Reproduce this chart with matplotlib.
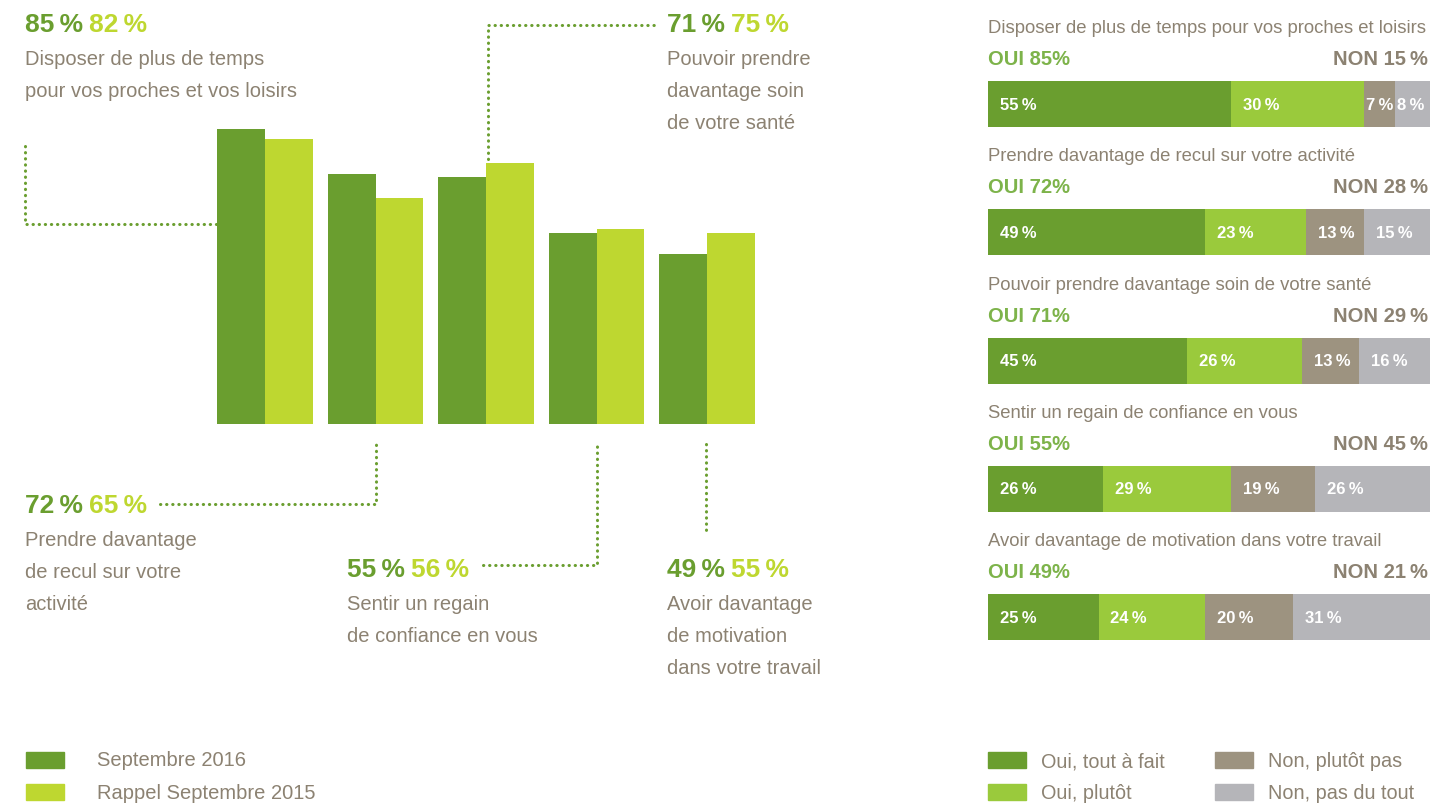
import matplotlib
matplotlib.use("Agg")
import matplotlib.pyplot as plt
from matplotlib.lines import Line2D

plt.rcParams['font.family'] = ['Liberation Sans', 'DejaVu Sans']

# left chart data: Septembre 2016 vs Rappel Septembre 2015
items = ["Disposer de plus de temps\npour vos proches et vos loisirs",
         "Prendre davantage\nde recul sur votre\nactivité",
         "Pouvoir prendre\ndavantage soin\nde votre santé",
         "Sentir un regain\nde confiance en vous",
         "Avoir davantage\nde motivation\ndans votre travail"]
sept_2016 = [85, 72, 71, 55, 49]
sept_2015 = [82, 65, 75, 56, 55]

# right chart data
questions = ["Disposer de plus de temps pour vos proches et loisirs",
             "Prendre davantage de recul sur votre activité",
             "Pouvoir prendre davantage soin de votre santé",
             "Sentir un regain de confiance en vous",
             "Avoir davantage de motivation dans votre travail"]
oui_total = [85, 72, 71, 55, 49]
non_total = [15, 28, 29, 45, 21]
tout_a_fait = [55, 49, 45, 26, 25]
plutot = [30, 23, 26, 29, 24]
plutot_pas = [7, 13, 13, 19, 20]
pas_du_tout = [8, 15, 16, 26, 31]
answer_labels = ["Oui, tout à fait", "Oui, plutôt", "Non, plutôt pas", "Non, pas du tout"]

DARK = '#6a9e2f'
LIME = '#bed730'
GREEN2 = '#9aca3c'
TAUPE = '#9d9380'
LGRAY = '#b5b5b9'
TXT = '#8c8272'
OUI_C = '#7db34a'
TS = '\u2009'  # thin space before %

W, H = 1455, 804
fig = plt.figure(figsize=(W / 100, H / 100), dpi=100)


def fx(px):
    return px / W


def fy(py):
    return 1 - py / H


def dotted(xs, ys):
    fig.add_artist(Line2D([fx(x) for x in xs], [fy(y) for y in ys], transform=fig.transFigure,
                          color=DARK, lw=2.2, linestyle=(0, (0.1, 1.9)), dash_capstyle='round'))


# ---- left grouped bars ----
ax = fig.add_axes([fx(200), fy(425), 570 / W, 425 / H])
xs = range(len(sept_2016))
ax.bar([x - 0.217 for x in xs], sept_2016, width=0.434, color=DARK)
ax.bar([x + 0.217 for x in xs], sept_2015, width=0.434, color=LIME)
ax.set_xlim(-65 / 110.5, 505 / 110.5)
ax.set_ylim(0, 425 / 3.475)
ax.axis('off')

# callouts: (x, baseline of numbers) in pixels
callouts = [(25, 32), (25, 513), (667, 32), (347, 577), (667, 577)]
for (px, py), a, b, lab in zip(callouts, sept_2016, sept_2015, items):
    fig.text(fx(px), fy(py), f"{a}{TS}%", color=DARK, fontsize=19, fontweight='bold', va='baseline')
    fig.text(fx(px + 64), fy(py), f"{b}{TS}%", color=LIME, fontsize=19, fontweight='bold', va='baseline')
    for k, line in enumerate(lab.split("\n")):
        fig.text(fx(px), fy(py + 33 + 32 * k), line, color=TXT, fontsize=14.5, va='baseline')

dotted([25, 25, 217], [147, 225, 225])
dotted([160, 376, 376], [505, 505, 445])
dotted([488, 488, 655], [160, 26, 26])
dotted([483, 597, 597], [566, 566, 445])
dotted([706, 706], [445, 536])

# ---- right stacked bars ----
row0, step = 105, 128.3
ax2 = fig.add_axes([fx(988), fy(row0 + 4.5 * step), 442 / W, 5 * step / H])
segs = [tout_a_fait, plutot, plutot_pas, pas_du_tout]
cols = [DARK, GREEN2, TAUPE, LGRAY]
left = [0] * len(questions)
for vals, c in zip(segs, cols):
    ax2.barh(range(len(questions)), vals, left=left, height=46 / step, color=c)
    for i, (l, v) in enumerate(zip(left, vals)):
        off = 2.7 if v >= 10 else 0.5
        ax2.text(l + off, i, f"{v}{TS}%", color='white', fontsize=12, fontweight='bold', va='center')
    left = [l + v for l, v in zip(left, vals)]
ax2.set_xlim(0, 100)
ax2.set_ylim(4.5, -0.5)
ax2.axis('off')

for i, q in enumerate(questions):
    cy = row0 + step * i
    fig.text(fx(988), fy(cy - 72), q, color=TXT, fontsize=13.3, va='baseline')
    fig.text(fx(988), fy(cy - 40), f"OUI {oui_total[i]}%", color=OUI_C, fontsize=14.5,
             fontweight='bold', va='baseline')
    fig.text(fx(1428), fy(cy - 40), f"NON {non_total[i]}{TS}%", color=TXT, fontsize=14.5,
             fontweight='bold', va='baseline', ha='right')

# ---- legends ----
def swatch(x, y, c):
    fig.add_artist(plt.Rectangle((fx(x), fy(y + 16)), 38 / W, 16 / H, color=c, transform=fig.transFigure))


swatch(26, 753, DARK)
fig.text(fx(97), fy(761), "Septembre 2016", color=TXT, fontsize=14.5, va='center')
swatch(26, 785, LIME)
fig.text(fx(97), fy(794), "Rappel Septembre 2015", color=TXT, fontsize=14.5, va='center')

for (x, y), c, lab in zip([(988, 753), (988, 785), (1215, 753), (1215, 785)], cols, answer_labels):
    swatch(x, y, c)
    fig.text(fx(x + 53), fy(y + 9), lab, color=TXT, fontsize=14.3, va='center')

fig.savefig("out.png", dpi=100)
